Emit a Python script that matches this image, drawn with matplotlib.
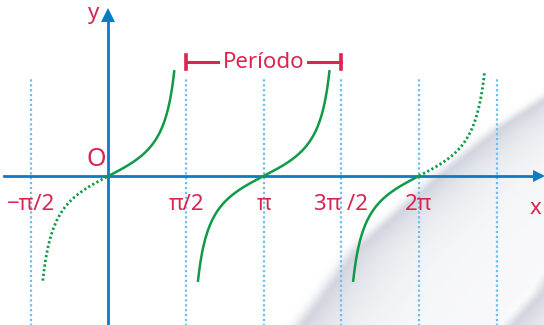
import numpy as np
import matplotlib.pyplot as plt

plt.rcParams['font.family'] = ['Noto Sans', 'DejaVu Sans']

# data
branch_centers = [0.0, np.pi, 2 * np.pi]
branch_half = 1.33
solid_parts = [(0.0, 1.0), (-1.0, 1.0), (-1.0, 0.0)]   # fraction of half width, per branch
dotted_parts = [(-1.0, 0.0), None, (0.0, 1.0)]
asymptotes = [-np.pi / 2, np.pi / 2, np.pi, 3 * np.pi / 2, 2 * np.pi, 5 * np.pi / 2]
tick_pos = [-np.pi / 2, np.pi / 2, np.pi, 3 * np.pi / 2, 2 * np.pi]
tick_labels = ["\u2212\u03c0/2", "\u03c0/2", "\u03c0", "3\u03c0 /2", "2\u03c0"]
period = (np.pi / 2, 3 * np.pi / 2)

blue = "#0a7bc4"
light = "#6cbdf0"
green = "#109a47"
red = "#d92550"

W, H = 544, 325
u = 25.7  # pixels per y unit
fig = plt.figure(figsize=(W / 100, H / 100), dpi=100)
ax = fig.add_axes([0, 0, 1, 1])
ax.axis("off")

# soft grey swoosh in the background (decoration only)
yy, xx = np.mgrid[0:H, 0:W]
edge1 = np.interp(yy, [80, 93, 127, 177, 250, 300, 325], [560, 543, 490, 427, 345, 309, 290])
edge2 = np.interp(yy, [250, 293, 320, 340], [556, 530, 505, 490])

def band(d, fall):
    d = d - 14
    return np.where(d < 0, np.exp(-(d / 11.0) ** 2), np.exp(-d / fall) * 0.85 + 0.15)

inten = np.maximum(band(xx - edge1, 40.0) * np.clip(1 - (xx - edge2 + 10) / 40, 0.25, 1),
                   band(xx - edge2, 35.0))
img = np.zeros((H, W, 4))
img[..., 0] = 150 / 255
img[..., 1] = 158 / 255
img[..., 2] = 180 / 255
img[..., 3] = 0.42 * inten
ax.imshow(img, extent=[0, 1, 0, 1], transform=ax.transAxes, aspect="auto",
          interpolation="bilinear", zorder=0)
ax.set_xlim(-2.196, 8.815)
ax.set_ylim(-149 / u, 176 / u)

# asymptotes
for xa in asymptotes:
    ax.plot([xa, xa], [-6.0, 97 / u], color=light, lw=1.6, ls=(0, (1, 1.2)), zorder=1)

# axes with arrows
ax.plot([-2.12, 8.72], [0, 0], color=blue, lw=2.0, zorder=2)
ax.plot([8.72], [0], marker=">", color=blue, ms=9, mew=0, zorder=2)
ax.plot([0, 0], [-6.0, 158 / u], color=blue, lw=2.0, zorder=2)
ax.plot([0], [161 / u], marker="^", color=blue, ms=10, mew=0, zorder=2)

# tangent branches
for c, sp, dp in zip(branch_centers, solid_parts, dotted_parts):
    x = np.linspace(c + sp[0] * branch_half, c + sp[1] * branch_half, 200)
    ax.plot(x, np.tan(x - c), color=green, lw=1.8, zorder=3)
    if dp is not None:
        x = np.linspace(c + dp[0] * branch_half, c + dp[1] * branch_half, 200)
        ax.plot(x, np.tan(x - c), color=green, lw=2.0, ls=(0, (0.8, 0.9)), zorder=3)

# labels
for xp, lab in zip(tick_pos, tick_labels):
    ax.text(xp, -29 / u, lab, color=red, fontsize=16, ha="center", va="center", zorder=4)
ax.text(-0.25, 16 / u, "O", color=red, fontsize=18, ha="center", va="center")
ax.text(-0.31, 162 / u, "y", color=red, fontsize=16, ha="center", va="center")
ax.text(8.64, -32 / u, "x", color=red, fontsize=16, ha="center", va="center")

# period bracket
ypr = 114 / u
ax.plot([period[0], period[1]], [ypr, ypr], color=red, lw=2.2, zorder=3)
for xp in period:
    ax.plot([xp, xp], [ypr - 7 / u, ypr + 7 / u], color=red, lw=2.6, zorder=3)
ax.text(np.mean(period), ypr, "Período", color=red, fontsize=16, ha="center", va="center",
        bbox=dict(facecolor="white", edgecolor="none", pad=2), zorder=4)

fig.savefig("out.png", dpi=100)
